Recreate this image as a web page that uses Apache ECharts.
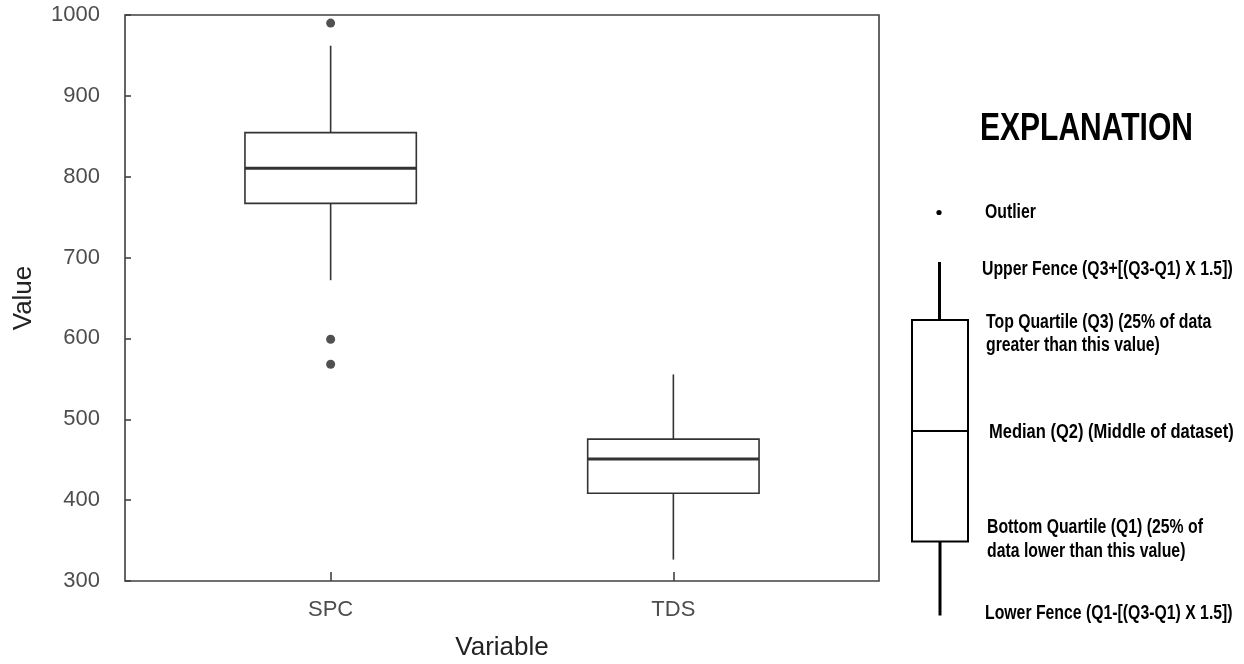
<!DOCTYPE html>
<html>
<head>
<meta charset="utf-8">
<script src="https://cdn.jsdelivr.net/npm/echarts@6/dist/echarts.min.js"></script>
<style>
html,body{margin:0;padding:0;background:#fff;}
#chart{width:1244px;height:664px;}
</style>
</head>
<body>
<div id="chart"></div>
<script>
// ---- data ----
const categories = ['SPC', 'TDS'];
const lowerFence = [672, 326.5];
const q1Values = [767, 408.5];
const medianValues = [810.5, 451];
const q3Values = [854.5, 475.5];
const upperFence = [962, 555.5];
const outlierCategory = ['SPC', 'SPC', 'SPC'];
const outlierValues = [990, 599, 568];
const yTicks = { min: 300, max: 1000, step: 100 };
const legendLines = [
  'Outlier',
  'Upper Fence (Q3+[(Q3-Q1) X 1.5])',
  'Top Quartile (Q3) (25% of data',
  'greater than this value)',
  'Median (Q2) (Middle of dataset)',
  'Bottom Quartile (Q1) (25% of',
  'data lower than this value)',
  'Lower Fence (Q1-[(Q3-Q1) X 1.5])'
];

const catPos = categories.map((c, i) => i + 1);
const boxData = categories.map((c, i) => [catPos[i], lowerFence[i], q1Values[i], medianValues[i], q3Values[i], upperFence[i]]);
const outlierData = outlierValues.map((v, i) => [categories.indexOf(outlierCategory[i]) + 1, v]);

const BOX_HALF = 0.25;
const INK = '#333';
const FONT = '"Liberation Sans", Arial, sans-serif';

function renderBox(params, api) {
  const x = api.value(0);
  const pLow = api.coord([x, api.value(1)]);
  const pQ1 = api.coord([x, api.value(2)]);
  const pMed = api.coord([x, api.value(3)]);
  const pQ3 = api.coord([x, api.value(4)]);
  const pHigh = api.coord([x, api.value(5)]);
  const hw = api.size([BOX_HALF, 0])[0];
  const cx = pMed[0];
  const thin = { stroke: INK, lineWidth: 1.6, fill: null };
  return {
    type: 'group',
    children: [
      { type: 'line', shape: { x1: cx, y1: pHigh[1], x2: cx, y2: pQ3[1] }, style: thin },
      { type: 'line', shape: { x1: cx, y1: pQ1[1], x2: cx, y2: pLow[1] }, style: thin },
      { type: 'rect', shape: { x: cx - hw, y: pQ3[1], width: 2 * hw, height: pQ1[1] - pQ3[1] }, style: { stroke: INK, lineWidth: 1.6, fill: '#fff' } },
      { type: 'line', shape: { x1: cx - hw, y1: pMed[1], x2: cx + hw, y2: pMed[1] }, style: { stroke: INK, lineWidth: 3 } }
    ]
  };
}

const LFONT = 'bold 20px ' + FONT;
function ltext(str, x, y, sx) {
  return { type: 'text', x: x, y: y, scaleX: sx, silent: true,
    style: { text: str, x: 0, y: 0, font: LFONT, fill: '#000', textVerticalAlign: 'middle', textAlign: 'left' } };
}
const legendY = [212.5, 269.5, 322.5, 345.5, 432.5, 527.5, 551, 613.5];
const legendX = [985, 982, 986, 986, 989, 987, 987, 985];
const legendSX = [0.79, 0.79, 0.79, 0.79, 0.825, 0.79, 0.79, 0.79];

const graphics = [
  { type: 'text', x: 980, y: 129.5, scaleX: 0.79, silent: true,
    style: { text: 'EXPLANATION', x: 0, y: 0, font: 'bold 38px ' + FONT, fill: '#000', textVerticalAlign: 'middle', textAlign: 'left' } },
  { type: 'circle', shape: { cx: 939, cy: 212.5, r: 2.6 }, style: { fill: '#000' }, silent: true },
  { type: 'line', shape: { x1: 939.5, y1: 262, x2: 939.5, y2: 320 }, style: { stroke: '#000', lineWidth: 3 }, silent: true },
  { type: 'rect', shape: { x: 912, y: 320, width: 56, height: 221.5 }, style: { stroke: '#000', lineWidth: 2, fill: null }, silent: true },
  { type: 'line', shape: { x1: 912, y1: 431, x2: 968, y2: 431 }, style: { stroke: '#000', lineWidth: 2 }, silent: true },
  { type: 'line', shape: { x1: 940, y1: 541.5, x2: 940, y2: 615.5 }, style: { stroke: '#000', lineWidth: 3 }, silent: true }
].concat(legendLines.map((s, i) => ltext(s, legendX[i], legendY[i], legendSX[i])));

const chart = echarts.init(document.getElementById('chart'), null, { renderer: 'canvas' });
chart.setOption({
  backgroundColor: '#fff',
  animation: false,
  grid: {
    left: 125, right: 365, top: 15, bottom: 83,
    show: true, borderColor: '#404040', borderWidth: 1.6, backgroundColor: 'transparent',
    containLabel: false, outerBoundsMode: 'none'
  },
  xAxis: {
    type: 'value', min: 0.4, max: 2.6,
    name: 'Variable', nameLocation: 'middle', nameGap: 54,
    nameTextStyle: { fontSize: 26, color: '#222', fontFamily: FONT },
    axisLine: { show: false },
    splitLine: { show: false },
    axisTick: { show: true, inside: true, length: 9, customValues: catPos, lineStyle: { color: '#404040', width: 1.6 } },
    axisLabel: { show: true, customValues: catPos, margin: 18, fontSize: 22, color: '#4d4d4d', fontFamily: FONT,
      formatter: v => categories[Math.round(v) - 1] || '' }
  },
  yAxis: {
    type: 'value', min: yTicks.min, max: yTicks.max, interval: yTicks.step,
    name: 'Value', nameLocation: 'middle', nameGap: 88,
    nameTextStyle: { fontSize: 26, color: '#222', fontFamily: FONT },
    axisLine: { show: false },
    splitLine: { show: false },
    axisTick: { show: true, inside: true, length: 6, lineStyle: { color: '#404040', width: 1.6 } },
    axisLabel: { margin: 25, fontSize: 22, color: '#4d4d4d', fontFamily: FONT, formatter: v => String(v) }
  },
  series: [
    { type: 'custom', name: 'box', renderItem: renderBox, data: boxData, encode: { x: 0, y: [1, 2, 3, 4, 5] }, silent: true, clip: false },
    { type: 'scatter', name: 'outliers', data: outlierData, symbol: 'circle', symbolSize: 9, itemStyle: { color: '#262626' }, silent: true }
  ],
  graphic: graphics
});
</script>
</body>
</html>
